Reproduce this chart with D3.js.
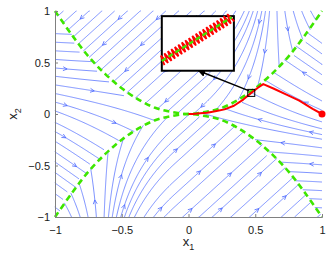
<!DOCTYPE html>
<html>
<head>
<meta charset="utf-8">
<script src="https://cdn.jsdelivr.net/npm/d3@7"></script>
<style>
  body { margin: 0; background: #fff; }
  svg { display: block; font-family: "Liberation Sans", Arial, sans-serif; }
</style>
</head>
<body>
<div id="chart"></div>
<script>
// ---- data ----
const xTicks = [-1, -0.5, 0, 0.5, 1];
const yTicks = [-1, -0.5, 0, 0.5, 1];

// green switching curves, sampled at these x1 values
const curveX1 = [-1, -0.875, -0.75, -0.625, -0.5, -0.375, -0.25, -0.125, 0, 0.125, 0.25, 0.375, 0.5, 0.625, 0.75, 0.875, 1];
const upperX2 = [1, 0.77, 0.56, 0.39, 0.25, 0.14, 0.06, 0.02, 0, 0.02, 0.06, 0.14, 0.25, 0.39, 0.56, 0.77, 1];
const lowerX2 = [-1, -0.77, -0.56, -0.39, -0.25, -0.14, -0.06, -0.02, 0, -0.02, -0.06, -0.14, -0.25, -0.39, -0.56, -0.77, -1];

// red trajectory from (1,0)
const trajX1 = [1.0, 0.93, 0.83, 0.73, 0.64, 0.56, 0.52, 0.47, 0.41, 0.34, 0.27, 0.21, 0.14, 0.085, 0.035, 0];
const trajX2 = [0.0, 0.05, 0.13, 0.19, 0.245, 0.29, 0.255, 0.205, 0.14, 0.08, 0.045, 0.03, 0.013, 0.007, 0.001, 0];

// zoom marker and inset (data units)
const zoomAt = [0.47, 0.205];
const insetX1 = [-0.2, 0.34];
const insetX2 = [0.42, 0.95];
const arrowTo = [0.075, 0.42];
// inset content in local 0..1 coords: sliding line and chattering zigzag
const insetLine = [[0.0, 0.18], [0.97, 0.98]];
const zigU = [0.00, 0.025, 0.05, 0.075, 0.10, 0.125, 0.15, 0.175, 0.20, 0.225, 0.25, 0.275, 0.30, 0.325, 0.35, 0.375,
              0.40, 0.425, 0.45, 0.475, 0.50, 0.525, 0.55, 0.575, 0.60, 0.625, 0.65, 0.675, 0.70, 0.725, 0.75, 0.775,
              0.80, 0.825, 0.85, 0.875, 0.90, 0.925, 0.95, 0.975, 1.00];
const zigSide = [-1, 1, -1, 1, -1, 1, -1, 1, -1, 1, -1, 1, -1, 1, -1, 1,
                 -1, 1, -1, 1, -1, 1, -1, 1, -1, 1, -1, 1, -1, 1, -1, 1,
                 -1, 1, -1, 1, -1, 1, -1, 1, -1];

// vector field estimated from the streamline directions
const topTurn = [0.1, 0.65];      // top region: fully diagonal left of first, vertical at second
const diagRate = 0.85;            // dx1/dx2 of the diagonal lines
const midParams = [0.45, 0.45, 3, 0.15]; // right-middle slope: a + b*tanh(k*x2) + c*(x1-0.6)

// ---- layout ----
const W = 332, H = 258;
const x = d3.scaleLinear().domain([-1, 1]).range([55, 322]);
const y = d3.scaleLinear().domain([-1, 1]).range([217, 11]);

const svg = d3.select("#chart").append("svg").attr("width", W).attr("height", H);

// ---- field ----
function region(a, b) {
    const q = a * a;
    if (b > q) return "T";
    if (b < -q) return "B";
    return a >= 0 ? "R" : "L";
}
function vTop(a) {
    let h = (topTurn[1] - a) / (topTurn[1] - topTurn[0]);
    h = Math.max(-0.6, Math.min(1, h));
    return [-diagRate * h, -1];
}
function vRight(a, b) {
    const s = midParams[0] + midParams[1] * Math.tanh(midParams[2] * b) + midParams[3] * (a - 0.6);
    return [-1, s];
}
function field(a, b) {
    const r = region(a, b);
    if (r === "T") return vTop(a);
    if (r === "B") { const v = vTop(-a); return [-v[0], -v[1]]; }
    if (r === "R") return vRight(a, b);
    const v = vRight(-a, -b);
    return [-v[0], -v[1]];
}

// ---- evenly spaced streamlines, worked in pixel space ----
const sx = (x(1) - x(-1)) / 2, sy = (y(-1) - y(1)) / 2;
const X0 = x(-1), X1 = x(1), Y0 = y(1), Y1 = y(-1);
function preg(px, py) { return region(x.invert(px), y.invert(py)); }
function pdir(px, py, r0) {
    const a = x.invert(px), b = y.invert(py);
    const v = (r0 && region(a, b) !== r0) ? null : field(a, b);
    if (!v) return null;
    const u = [v[0] * sx, -v[1] * sy], n = Math.hypot(u[0], u[1]);
    return [u[0] / n, u[1] / n];
}
const dsep = 8.6, dtest = 3.6, h = 1.0;
const cs = dsep;
const hash = new Map();
function key(i, j) { return i * 1000 + j; }
function addPts(pts, id) {
    pts.forEach(p => {
        const k = key(Math.floor(p[0] / cs), Math.floor(p[1] / cs));
        if (!hash.has(k)) hash.set(k, []);
        hash.get(k).push([p[0], p[1], id]);
    });
}
function near(px, py, d, id) {
    const i0 = Math.floor(px / cs), j0 = Math.floor(py / cs);
    for (let i = i0 - 1; i <= i0 + 1; i++) for (let j = j0 - 1; j <= j0 + 1; j++) {
        const L = hash.get(key(i, j));
        if (!L) continue;
        for (const q of L) if (q[2] !== id && (q[0] - px) ** 2 + (q[1] - py) ** 2 < d * d) return true;
    }
    return false;
}
function trace(px, py, dir, id) {
    const pts = [];
    const r0 = preg(px, py);
    for (let k = 0; k < 1500; k++) {
        const v = pdir(px, py, r0);
        if (!v) break;
        const mx = px + dir * h / 2 * v[0], my = py + dir * h / 2 * v[1];
        const v2 = pdir(mx, my, r0) || v;
        const nx = px + dir * h * v2[0], ny = py + dir * h * v2[1];
        if (nx < X0 || nx > X1 || ny < Y0 || ny > Y1) {
            pts.push([Math.max(X0, Math.min(X1, nx)), Math.max(Y0, Math.min(Y1, ny))]);
            break;
        }
        if (preg(nx, ny) !== r0) { pts.push([nx, ny]); break; }
        if (near(nx, ny, dtest, id)) break;
        pts.push([nx, ny]);
        px = nx; py = ny;
    }
    return pts;
}
const lines = [];
function validSeed(px, py) {
    return px > X0 + 0.5 && px < X1 - 0.5 && py > Y0 + 0.5 && py < Y1 - 0.5 && !near(px, py, dsep, -1);
}
function makeLine(px, py) {
    const id = lines.length;
    const fwd = trace(px, py, 1, id);
    const bwd = trace(px, py, -1, id);
    const pts = bwd.reverse().concat([[px, py]], fwd);
    if (pts.length < 6) return null;
    lines.push(pts);
    addPts(pts, id);
    return pts;
}
const queue = [];
for (let gy = Y0 + 4; gy < Y1; gy += 6) {
    for (let gx = X0 + 4; gx < X1; gx += 6) {
        if (!validSeed(gx, gy)) continue;
        const first = makeLine(gx, gy);
        if (first) queue.push(first);
        while (queue.length) {
            const L = queue.shift();
            for (let k = 1; k < L.length - 1; k += 3) {
                const t = [L[k + 1][0] - L[k - 1][0], L[k + 1][1] - L[k - 1][1]];
                const n = Math.hypot(t[0], t[1]);
                if (n === 0) continue;
                const nr = [-t[1] / n, t[0] / n];
                for (const sgn of [1, -1]) {
                    const sx2 = L[k][0] + sgn * dsep * nr[0], sy2 = L[k][1] + sgn * dsep * nr[1];
                    if (validSeed(sx2, sy2)) {
                        const nl = makeLine(sx2, sy2);
                        if (nl) queue.push(nl);
                    }
                }
            }
        }
    }
}

// arrows: along each line, spaced apart from each other
const arrows = [];
lines.forEach(L => {
    let acc = 0;
    for (let k = 1; k < L.length - 1; k++) {
        acc += Math.hypot(L[k][0] - L[k - 1][0], L[k][1] - L[k - 1][1]);
        if (acc < 12 || L.length - k < 10) continue;
        const p = L[k];
        if (arrows.some(a => (a.x - p[0]) ** 2 + (a.y - p[1]) ** 2 < 30 * 30)) continue;
        arrows.push({ x: p[0], y: p[1], ang: Math.atan2(L[k + 1][1] - L[k - 1][1], L[k + 1][0] - L[k - 1][0]) });
        acc = -40;
    }
});

svg.append("g").selectAll("path").data(lines).enter().append("path")
    .attr("d", d3.line())
    .attr("fill", "none")
    .attr("stroke", "#4563ff")
    .attr("stroke-width", 0.7);

svg.append("g").selectAll("path").data(arrows).enter().append("path")
    .attr("d", d => {
        const L = 4.5, s = 0.45;
        const p1 = [d.x - L * Math.cos(d.ang - s), d.y - L * Math.sin(d.ang - s)];
        const p2 = [d.x - L * Math.cos(d.ang + s), d.y - L * Math.sin(d.ang + s)];
        return `M${p1}L${d.x},${d.y}L${p2}`;
    })
    .attr("fill", "none")
    .attr("stroke", "#4563ff")
    .attr("stroke-width", 0.8);

const line = d3.line().x(d => x(d[0])).y(d => y(d[1]));

// green switching curves
const green = d3.line().x(d => x(d[0])).y(d => y(d[1])).curve(d3.curveCatmullRom);
[upperX2, lowerX2].forEach(arr => {
    svg.append("path")
        .attr("d", green(curveX1.map((v, k) => [v, arr[k]])))
        .attr("fill", "none")
        .attr("stroke", "#3ee600")
        .attr("stroke-width", 2.6)
        .attr("stroke-dasharray", "6,4");
});

// red trajectory
svg.append("path")
    .attr("d", line(trajX1.map((v, k) => [v, trajX2[k]])))
    .attr("fill", "none")
    .attr("stroke", "#ff0000")
    .attr("stroke-width", 2)
    .attr("stroke-linejoin", "round");
svg.append("circle")
    .attr("cx", x(trajX1[0])).attr("cy", y(trajX2[0]))
    .attr("r", 3.5).attr("fill", "#ff0000");

// axes (left and bottom only)
const fmt = d => d3.format("")(d).replace("-", "\u2212");
const ax = svg.append("g").attr("transform", `translate(0,${y(-1)})`)
    .call(d3.axisBottom(x).tickValues(xTicks).tickSize(-3).tickPadding(9).tickFormat(fmt));
const ay = svg.append("g").attr("transform", `translate(${x(-1)},0)`)
    .call(d3.axisLeft(y).tickValues(yTicks).tickSize(-3).tickPadding(5).tickFormat(fmt));
[ax, ay].forEach(g => {
    g.select(".domain").attr("stroke", "#808080");
    g.selectAll(".tick line").attr("stroke", "#808080");
    g.selectAll("text").attr("font-size", 11).attr("fill", "#1a1a1a")
        .attr("font-family", "'Liberation Sans', Arial, sans-serif");
});

// axis labels
const xl = svg.append("text").attr("x", x(0)).attr("y", 246)
    .attr("text-anchor", "middle").attr("font-size", 13).attr("fill", "#1a1a1a");
xl.append("tspan").text("x");
xl.append("tspan").attr("dy", 4).attr("font-size", 9).text("1");
const yl = svg.append("text").attr("transform", `translate(17,${y(0)}) rotate(-90)`)
    .attr("text-anchor", "middle").attr("font-size", 13).attr("fill", "#1a1a1a");
yl.append("tspan").text("x");
yl.append("tspan").attr("dy", 4).attr("font-size", 9).text("2");

// zoom marker, connector and inset
svg.append("rect")
    .attr("x", x(zoomAt[0]) - 3.5).attr("y", y(zoomAt[1]) - 3.5)
    .attr("width", 7).attr("height", 7)
    .attr("fill", "none").attr("stroke", "#000").attr("stroke-width", 1);

svg.append("defs").append("marker")
    .attr("id", "ah").attr("viewBox", "0 0 10 10").attr("refX", 9).attr("refY", 5)
    .attr("markerWidth", 5).attr("markerHeight", 5).attr("orient", "auto")
    .append("path").attr("d", "M0,0L10,5L0,10z").attr("fill", "#000");
svg.append("line")
    .attr("x1", x(zoomAt[0]) - 2).attr("y1", y(zoomAt[1]) - 2)
    .attr("x2", x(arrowTo[0])).attr("y2", y(arrowTo[1]))
    .attr("stroke", "#000").attr("stroke-width", 1.5)
    .attr("marker-end", "url(#ah)");

const ix = d3.scaleLinear().domain([0, 1]).range([x(insetX1[0]), x(insetX1[1])]);
const iy = d3.scaleLinear().domain([0, 1]).range([y(insetX2[0]), y(insetX2[1])]);
svg.append("rect")
    .attr("x", ix(0)).attr("y", iy(1))
    .attr("width", ix(1) - ix(0)).attr("height", iy(0) - iy(1))
    .attr("fill", "#fff").attr("stroke", "#000").attr("stroke-width", 2);

const p0 = [ix(insetLine[0][0]), iy(insetLine[0][1])];
const p1 = [ix(insetLine[1][0]), iy(insetLine[1][1])];
const len = Math.hypot(p1[0] - p0[0], p1[1] - p0[1]);
const nrm = [(p1[1] - p0[1]) / len, -(p1[0] - p0[0]) / len];
const zig = zigU.map((u, k) => [
    p0[0] + u * (p1[0] - p0[0]) + zigSide[k] * 5 * nrm[0],
    p0[1] + u * (p1[1] - p0[1]) + zigSide[k] * 5 * nrm[1]
]);
svg.append("path")
    .attr("d", d3.line()(zig))
    .attr("fill", "none").attr("stroke", "#ff0000").attr("stroke-width", 1.8);
svg.append("line")
    .attr("x1", p0[0]).attr("y1", p0[1]).attr("x2", p1[0]).attr("y2", p1[1])
    .attr("stroke", "#3ee600").attr("stroke-width", 2.4).attr("stroke-dasharray", "5,3");
</script>
</body>
</html>
